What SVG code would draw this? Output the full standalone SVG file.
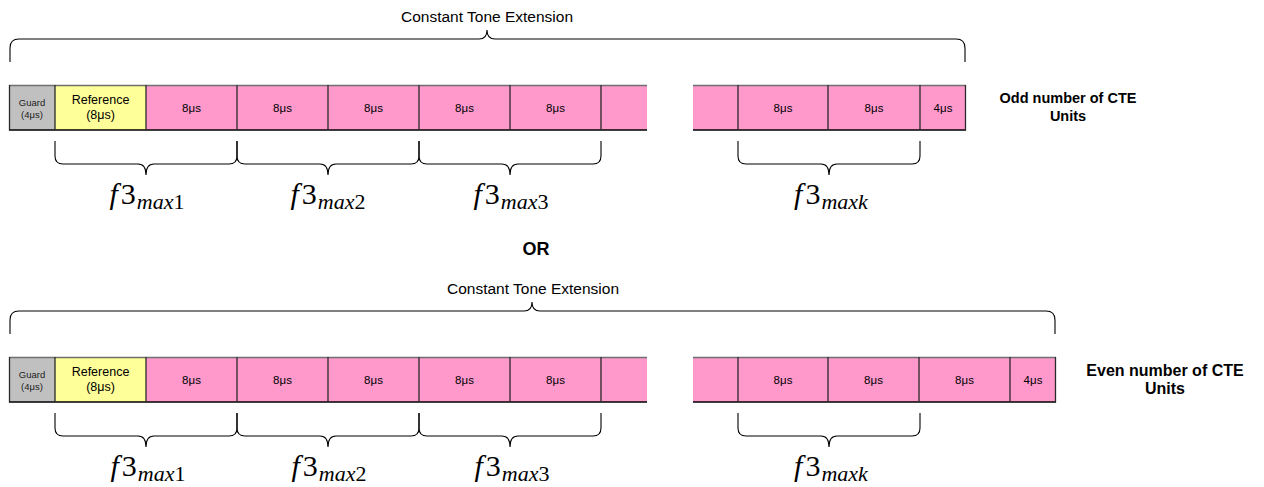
<svg xmlns="http://www.w3.org/2000/svg" width="1264" height="487" viewBox="0 0 1264 487">
<style>
.bg{fill:#ffffff}
.guard{fill:#C0C0C0}
.ref{fill:#FFFF99}
.pink{fill:#FF99CC}
.topb{stroke:#6f6f6f;stroke-width:1.6;fill:none}
.botb{stroke:#000;stroke-width:1.6;fill:none}
.div{stroke:#2a2a2a;stroke-width:1.3;fill:none}
.brace{stroke:#000;stroke-width:1.1;fill:none}
.t{font-family:"Liberation Sans",Arial,sans-serif;fill:#000;text-anchor:middle}
.cell{font-size:11.5px}
.g{font-size:9.5px;fill:#222}
.r{font-size:12.5px}
.cte{font-size:15.5px}
.lab{font-size:14.5px;font-weight:bold}
.lab2{font-size:16px;font-weight:bold}
.or{font-size:18px;font-weight:bold}
.m{font-family:"Liberation Serif","Times New Roman",serif;fill:#000;text-anchor:middle}
.big{font-size:30px}
.sub{font-size:22px;font-style:italic}
.it{font-style:italic}
</style>
<rect class="bg" x="0" y="0" width="1264" height="487"/>

<!-- ===== Row 1 (Odd) ===== -->
<g id="row1">
  <g id="r1-guard"><rect class="guard" x="9" y="85" width="46" height="45"/>
    <text class="t g" x="32" y="106">Guard</text><text class="t g" x="32" y="118">(4μs)</text></g>
  <g id="r1-ref"><rect class="ref" x="55" y="85" width="91" height="45"/>
    <text class="t r" x="100.5" y="104">Reference</text><text class="t r" x="100.5" y="119">(8μs)</text></g>
  <g id="r1-c1"><rect class="pink" x="146" y="85" width="91" height="45"/><text class="t cell" x="191.5" y="112">8μs</text></g>
  <g id="r1-c2"><rect class="pink" x="237" y="85" width="91" height="45"/><text class="t cell" x="282.5" y="112">8μs</text></g>
  <g id="r1-c3"><rect class="pink" x="328" y="85" width="91" height="45"/><text class="t cell" x="373.5" y="112">8μs</text></g>
  <g id="r1-c4"><rect class="pink" x="419" y="85" width="91" height="45"/><text class="t cell" x="464.5" y="112">8μs</text></g>
  <g id="r1-c5"><rect class="pink" x="510" y="85" width="91" height="45"/><text class="t cell" x="555.5" y="112">8μs</text></g>
  <g id="r1-c6"><rect class="pink" x="601" y="85" width="46" height="45"/></g>
  <g id="r1-c7"><rect class="pink" x="693" y="85" width="45" height="45"/></g>
  <g id="r1-c8"><rect class="pink" x="738" y="85" width="90" height="45"/><text class="t cell" x="783" y="112">8μs</text></g>
  <g id="r1-c9"><rect class="pink" x="828" y="85" width="92" height="45"/><text class="t cell" x="874" y="112">8μs</text></g>
  <g id="r1-c10"><rect class="pink" x="920" y="85" width="46" height="45"/><text class="t cell" x="943" y="112">4μs</text></g>
  <path class="topb" d="M9 85.5H647M693 85.5H966"/>
  <path class="botb" d="M9 130H647M693 130H966"/>
  <path class="div" d="M9.5 85V130.5M55 85V130M146 85V130M237 85V130M328 85V130M419 85V130M510 85V130M601 85V130M738 85V130M828 85V130M920 85V130M965.5 85V130.5"/>
</g>

<!-- ===== Row 2 (Even) ===== -->
<g id="row2">
  <g id="r2-guard"><rect class="guard" x="9" y="357" width="46" height="45"/>
    <text class="t g" x="32" y="378">Guard</text><text class="t g" x="32" y="390">(4μs)</text></g>
  <g id="r2-ref"><rect class="ref" x="55" y="357" width="91" height="45"/>
    <text class="t r" x="100.5" y="376">Reference</text><text class="t r" x="100.5" y="391">(8μs)</text></g>
  <g id="r2-c1"><rect class="pink" x="146" y="357" width="91" height="45"/><text class="t cell" x="191.5" y="384">8μs</text></g>
  <g id="r2-c2"><rect class="pink" x="237" y="357" width="91" height="45"/><text class="t cell" x="282.5" y="384">8μs</text></g>
  <g id="r2-c3"><rect class="pink" x="328" y="357" width="91" height="45"/><text class="t cell" x="373.5" y="384">8μs</text></g>
  <g id="r2-c4"><rect class="pink" x="419" y="357" width="91" height="45"/><text class="t cell" x="464.5" y="384">8μs</text></g>
  <g id="r2-c5"><rect class="pink" x="510" y="357" width="91" height="45"/><text class="t cell" x="555.5" y="384">8μs</text></g>
  <g id="r2-c6"><rect class="pink" x="601" y="357" width="46" height="45"/></g>
  <g id="r2-c7"><rect class="pink" x="693" y="357" width="45" height="45"/></g>
  <g id="r2-c8"><rect class="pink" x="738" y="357" width="90" height="45"/><text class="t cell" x="783" y="384">8μs</text></g>
  <g id="r2-c9"><rect class="pink" x="828" y="357" width="91" height="45"/><text class="t cell" x="873.5" y="384">8μs</text></g>
  <g id="r2-c10"><rect class="pink" x="919" y="357" width="91" height="45"/><text class="t cell" x="964.5" y="384">8μs</text></g>
  <g id="r2-c11"><rect class="pink" x="1010" y="357" width="46" height="45"/><text class="t cell" x="1033" y="384">4μs</text></g>
  <path class="topb" d="M9 357.5H647M693 357.5H1056"/>
  <path class="botb" d="M9 402H647M693 402H1056"/>
  <path class="div" d="M9.5 357V402.5M55 357V402M146 357V402M237 357V402M328 357V402M419 357V402M510 357V402M601 357V402M738 357V402M828 357V402M919 357V402M1010 357V402M1055.5 357V402.5"/>
</g>

<!-- ===== Braces ===== -->
<g id="connectors">
  <path class="brace" d="M10 62V48Q10 39 19 39H479Q487 39 487 30Q487 39 495 39H956Q965 39 965 48V62"/>
  <path class="brace" d="M55 141V156Q55 164 63 164H138Q146 164 146 175Q146 164 154 164H229Q237 164 237 156V141"/>
  <path class="brace" d="M237 141V156Q237 164 245 164H320Q328 164 328 175Q328 164 336 164H411Q419 164 419 156V141"/>
  <path class="brace" d="M419 141V156Q419 164 427 164H502Q510 164 510 175Q510 164 518 164H593Q601 164 601 156V141"/>
  <path class="brace" d="M738 141V156Q738 164 746 164H821Q829 164 829 175Q829 164 837 164H912Q920 164 920 156V141"/>
  <path class="brace" d="M10 334V320Q10 311 19 311H524Q532 311 532 302Q532 311 540 311H1046Q1055 311 1055 320V334"/>
  <path class="brace" d="M55 413V428Q55 436 63 436H138Q146 436 146 447Q146 436 154 436H229Q237 436 237 428V413"/>
  <path class="brace" d="M237 413V428Q237 436 245 436H320Q328 436 328 447Q328 436 336 436H411Q419 436 419 428V413"/>
  <path class="brace" d="M419 413V428Q419 436 427 436H502Q510 436 510 447Q510 436 518 436H593Q601 436 601 428V413"/>
  <path class="brace" d="M738 413V428Q738 436 746 436H821Q829 436 829 447Q829 436 837 436H912Q920 436 920 428V413"/>
</g>

<!-- ===== Labels ===== -->
<g id="labels">
  <text class="t cte" x="487" y="22">Constant Tone Extension</text>
  <text class="t cte" x="533" y="294">Constant Tone Extension</text>
  <text class="t lab" x="1068" y="103">Odd number of CTE</text>
  <text class="t lab" x="1068" y="121">Units</text>
  <text class="t lab2" x="1165" y="376">Even number of CTE</text>
  <text class="t lab2" x="1165" y="394">Units</text>
  <text class="t or" x="536" y="255">OR</text>

  <text class="m" x="147" y="204"><tspan class="big it">f</tspan><tspan class="big" dx="3">3</tspan><tspan class="sub" dy="5" dx="1">max</tspan><tspan font-size="22px">1</tspan></text>
  <text class="m" x="328" y="204"><tspan class="big it">f</tspan><tspan class="big" dx="3">3</tspan><tspan class="sub" dy="5" dx="1">max</tspan><tspan font-size="22px">2</tspan></text>
  <text class="m" x="511" y="204"><tspan class="big it">f</tspan><tspan class="big" dx="3">3</tspan><tspan class="sub" dy="5" dx="1">max</tspan><tspan font-size="22px">3</tspan></text>
  <text class="m" x="831" y="204"><tspan class="big it">f</tspan><tspan class="big" dx="3">3</tspan><tspan class="sub" dy="5" dx="1">maxk</tspan></text>

  <text class="m" x="148" y="476"><tspan class="big it">f</tspan><tspan class="big" dx="3">3</tspan><tspan class="sub" dy="5" dx="1">max</tspan><tspan font-size="22px">1</tspan></text>
  <text class="m" x="329" y="476"><tspan class="big it">f</tspan><tspan class="big" dx="3">3</tspan><tspan class="sub" dy="5" dx="1">max</tspan><tspan font-size="22px">2</tspan></text>
  <text class="m" x="512" y="476"><tspan class="big it">f</tspan><tspan class="big" dx="3">3</tspan><tspan class="sub" dy="5" dx="1">max</tspan><tspan font-size="22px">3</tspan></text>
  <text class="m" x="831" y="476"><tspan class="big it">f</tspan><tspan class="big" dx="3">3</tspan><tspan class="sub" dy="5" dx="1">maxk</tspan></text>
</g>
</svg>
